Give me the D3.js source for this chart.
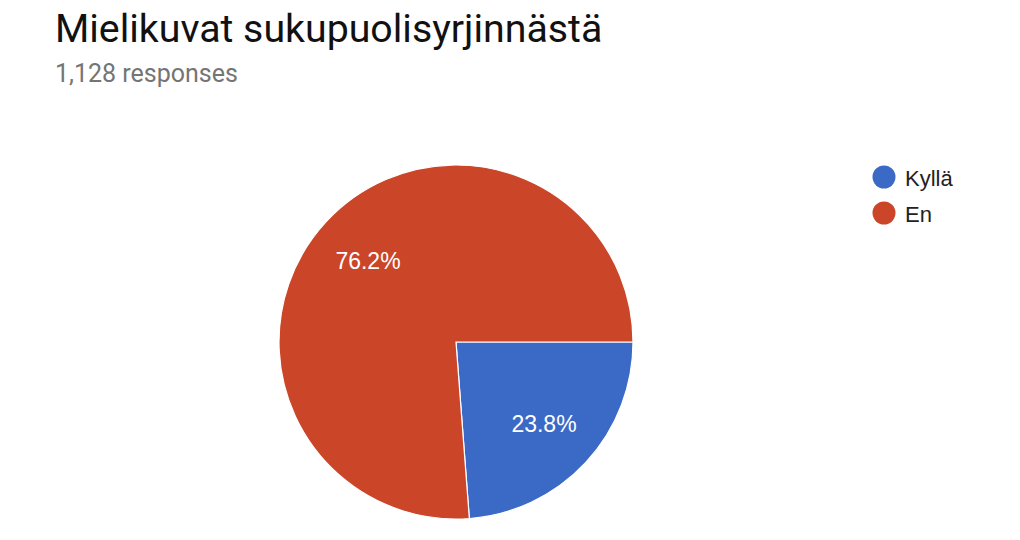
<!DOCTYPE html>
<html><head><meta charset="utf-8">
<script src="https://cdn.jsdelivr.net/npm/d3@7/dist/d3.min.js"></script>
<style>body{margin:0;background:#fff}</style>
</head><body>
<svg id="chart" width="1020" height="540"></svg>
<script>
const categories = ["Kyllä", "En"];
const values = [23.8, 76.2];
const colors = ["#3b6ac6", "#cb4528"];
const title = "Mielikuvat sukupuolisyrjinnästä";
const subtitle = "1,128 responses";

const svg = d3.select("#chart");
const cx = 456, cy = 342, R = 177;

svg.append("text").attr("x", 55).attr("y", 42)
  .attr("font-family", "Roboto").attr("font-size", 39.3).attr("fill", "#111")
  .text(title);
svg.append("text").attr("x", 55).attr("y", 82)
  .attr("font-family", "Roboto").attr("font-size", 25).attr("fill", "#757575")
  .text(subtitle);

const data = categories.map((c, i) => ({cat: c, value: values[i], color: colors[i]}));
const pie = d3.pie().value(d => d.value).sort(null)
  .startAngle(Math.PI / 2).endAngle(Math.PI / 2 + 2 * Math.PI);
const arcs = pie(data);
const arc = d3.arc().innerRadius(0).outerRadius(R);
const labelArc = d3.arc().innerRadius(120).outerRadius(120);

const g = svg.append("g").attr("transform", `translate(${cx},${cy})`);
g.selectAll("path").data(arcs).join("path")
  .attr("d", arc).attr("fill", d => d.data.color)
  .attr("stroke", "#fff").attr("stroke-width", 1.2);
g.selectAll("text.lbl").data(arcs).join("text").attr("class", "lbl")
  .attr("transform", d => `translate(${labelArc.centroid(d)})`)
  .attr("text-anchor", "middle").attr("dy", "0.36em")
  .attr("font-family", "Liberation Sans, Arial").attr("font-size", 23).attr("fill", "#fff")
  .text(d => d.data.value.toFixed(1) + "%");

const leg = svg.append("g").attr("transform", "translate(884,177)");
const items = leg.selectAll("g").data(data).join("g")
  .attr("transform", (d, i) => `translate(0,${i * 36})`);
items.append("circle").attr("r", 11.5).attr("fill", d => d.color);
items.append("text").attr("x", 21).attr("y", 9)
  .attr("font-family", "Liberation Sans, Arial").attr("font-size", 22).attr("fill", "#222")
  .text(d => d.cat);
</script>
</body></html>
